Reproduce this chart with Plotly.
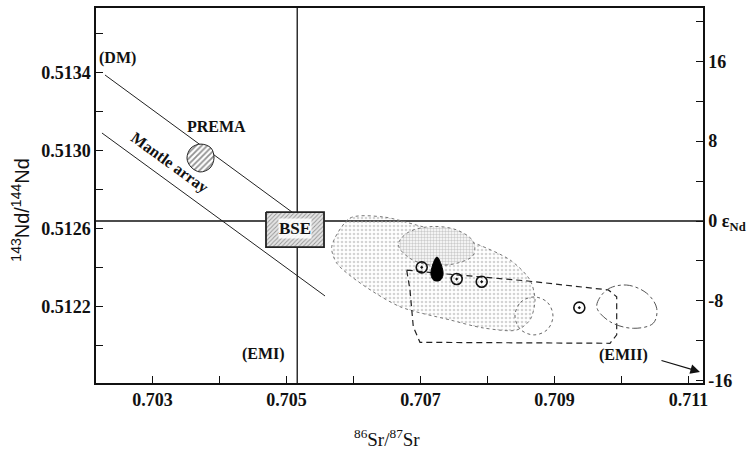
import plotly.graph_objects as go

# ---------------- data ----------------
X_RANGE = [0.702157, 0.711216]
Y_RANGE = [0.511806, 0.513732]
CHUR_ND = 0.512638          # epsilon Nd = 0 reference line
BSE_SR = 0.70516            # bulk silicate earth Sr line

X_TICKS = [0.703, 0.705, 0.707, 0.709, 0.711]
X_TICK_LABELS = ["0.703", "0.705", "0.707", "0.709", "0.711"]
X_MINOR = [0.703, 0.704, 0.705, 0.706, 0.707, 0.708, 0.709, 0.710, 0.711]
Y_TICKS = [0.5118, 0.5122, 0.5126, 0.5130, 0.5134]
Y_TICK_LABELS = ["0.5118", "0.5122", "0.5126", "0.5130", "0.5134"]
Y_MINOR = [0.5120, 0.5124, 0.5128, 0.5132, 0.5136]
EPS_TICKS = [-16, -8, 0, 8, 16]
EPS_TICK_LABELS = ["-16", "-8", "0 ε<sub>Nd</sub>", "8", "16"]
EPS_MINOR = [-12, -4, 4, 12, 20]

# mantle array bounding lines
DM_LINE_SR = [0.702291, 0.705082]
DM_LINE_ND = [0.513388, 0.512684]
LOW_LINE_SR = [0.702246, 0.705575]
LOW_LINE_ND = [0.513090, 0.512253]

# PREMA (hatched blob)
PREMA_SR = [0.703515, 0.703575, 0.703724, 0.703873, 0.703918, 0.703858, 0.703709, 0.703575, 0.703515]
PREMA_ND = [0.512961, 0.513013, 0.513033, 0.513013, 0.512961, 0.512910, 0.512890, 0.512915, 0.512961]

# BSE box
BSE_SR_BOX = [0.704694, 0.705560, 0.705560, 0.704694, 0.704694]
BSE_ND_BOX = [0.512684, 0.512684, 0.512504, 0.512504, 0.512684]

# large stippled field
FIELD_SR = [0.705675, 0.705948, 0.706440, 0.706943, 0.707689, 0.708336, 0.708634, 0.708709,
            0.708634, 0.708436, 0.707933, 0.707440, 0.706694, 0.706097, 0.705749, 0.705675]
FIELD_ND = [0.512506, 0.512653, 0.512659, 0.512617, 0.512540, 0.512438, 0.512335, 0.512232,
            0.512130, 0.512078, 0.512089, 0.512130, 0.512198, 0.512320, 0.512422, 0.512506]

# inner dense stippled field
CORE_SR = [0.706669, 0.706794, 0.707142, 0.707540, 0.707788, 0.707788, 0.707540, 0.707142, 0.706843, 0.706669]
CORE_ND = [0.512515, 0.512575, 0.512609, 0.512592, 0.512532, 0.512463, 0.512421, 0.512412, 0.512446, 0.512515]

# dashed field
DASH_SR = [0.706794, 0.707250, 0.708600, 0.709803, 0.709928, 0.709928, 0.709828, 0.706992, 0.706892, 0.706843, 0.706794]
DASH_ND = [0.512386, 0.512370, 0.512330, 0.512284, 0.512249, 0.512053, 0.512010, 0.512015, 0.512095, 0.512284, 0.512386]

# small dotted circle
CIRC_A_SR = [0.708410, 0.708492, 0.708694, 0.708895, 0.708977, 0.708895, 0.708694, 0.708492, 0.708410]
CIRC_A_ND = [0.512150, 0.512220, 0.512248, 0.512220, 0.512150, 0.512081, 0.512053, 0.512081, 0.512150]

# dash-dot ellipse (right)
CIRC_B_SR = [0.709630, 0.709779, 0.710077, 0.710376, 0.710525, 0.710474, 0.710176, 0.709828, 0.709630]
CIRC_B_ND = [0.512198, 0.512284, 0.512309, 0.512267, 0.512190, 0.512113, 0.512087, 0.512121, 0.512198]

# circled-dot samples
SAMPLE_SR = [0.707018, 0.707540, 0.707913, 0.709370]
SAMPLE_ND = [0.512400, 0.512340, 0.512326, 0.512193]

# black drop sample
DROP_SR = [0.707246, 0.707311, 0.707336, 0.707291, 0.707201, 0.707157, 0.707181, 0.707246]
DROP_ND = [0.512453, 0.512412, 0.512361, 0.512333, 0.512333, 0.512361, 0.512412, 0.512453]

# labels
LABELS = [
    ("(DM)", 0.702485, 0.513475, 0),
    ("PREMA", 0.703948, 0.513121, 0),
    ("Mantle array", 0.703261, 0.512936, 36),
    ("(EMI)", 0.704664, 0.511955, 0),
    ("(EMII)", 0.710022, 0.511950, 0),
]
BSE_LABEL = ("BSE", 0.705127, 0.512597)
ARROW_TAIL = (0.710574, 0.511924)
ARROW_HEAD = (0.711171, 0.511863)

# ---------------- figure ----------------
SERIF = "Liberation Serif, Times New Roman, serif"
fig = go.Figure()

fig.add_trace(go.Scatter(x=FIELD_SR, y=FIELD_ND, mode="lines", fill="toself",
                         line=dict(color="#777", width=1, dash="dot", shape="spline", smoothing=0.8),
                         fillcolor="rgba(0,0,0,0)",
                         fillpattern=dict(shape=".", fgcolor="#aaa", bgcolor="rgba(0,0,0,0)", size=4, solidity=0.35),
                         hoverinfo="skip", showlegend=False))
fig.add_trace(go.Scatter(x=CORE_SR, y=CORE_ND, mode="lines", fill="toself",
                         line=dict(color="#777", width=1, dash="dot", shape="spline", smoothing=1),
                         fillcolor="rgba(0,0,0,0)",
                         fillpattern=dict(shape=".", fgcolor="#999", bgcolor="white", size=3, solidity=0.5),
                         hoverinfo="skip", showlegend=False))
fig.add_trace(go.Scatter(x=DASH_SR, y=DASH_ND, mode="lines",
                         line=dict(color="#222", width=1.2, dash="6px,4px"),
                         hoverinfo="skip", showlegend=False))
fig.add_trace(go.Scatter(x=CIRC_A_SR, y=CIRC_A_ND, mode="lines",
                         line=dict(color="#666", width=1, dash="dot", shape="spline", smoothing=1),
                         hoverinfo="skip", showlegend=False))
fig.add_trace(go.Scatter(x=CIRC_B_SR, y=CIRC_B_ND, mode="lines",
                         line=dict(color="#555", width=1, dash="dashdot", shape="spline", smoothing=1),
                         hoverinfo="skip", showlegend=False))

# mantle array lines
fig.add_trace(go.Scatter(x=DM_LINE_SR, y=DM_LINE_ND, mode="lines",
                         line=dict(color="#222", width=1), hoverinfo="skip", showlegend=False))
fig.add_trace(go.Scatter(x=LOW_LINE_SR, y=LOW_LINE_ND, mode="lines",
                         line=dict(color="#222", width=1), hoverinfo="skip", showlegend=False))

# PREMA
fig.add_trace(go.Scatter(x=PREMA_SR, y=PREMA_ND, mode="lines", fill="toself",
                         line=dict(color="#222", width=1, shape="spline"),
                         fillcolor="white",
                         fillpattern=dict(shape="/", fgcolor="#222", bgcolor="white", size=4, solidity=0.45),
                         hoverinfo="skip", showlegend=False))
# BSE box
fig.add_trace(go.Scatter(x=BSE_SR_BOX, y=BSE_ND_BOX, mode="lines", fill="toself",
                         line=dict(color="#222", width=1.8),
                         fillcolor="white",
                         fillpattern=dict(shape="/", fgcolor="#444", bgcolor="#e4e4e4", size=3, solidity=0.3),
                         hoverinfo="skip", showlegend=False))

# samples
fig.add_trace(go.Scatter(x=SAMPLE_SR, y=SAMPLE_ND, mode="markers",
                         marker=dict(symbol="circle-open-dot", size=11, color="#111", line=dict(width=1.6, color="#111")),
                         hoverinfo="skip", showlegend=False))
fig.add_trace(go.Scatter(x=DROP_SR, y=DROP_ND, mode="lines", fill="toself",
                         line=dict(color="black", width=1, shape="spline"), fillcolor="black",
                         hoverinfo="skip", showlegend=False))


def eps(v):
    return (v / CHUR_ND - 1) * 1e4


# invisible trace for right epsilon axis
fig.add_trace(go.Scatter(x=[X_RANGE[0]], y=[0], yaxis="y2", mode="markers",
                         marker=dict(opacity=0), hoverinfo="skip", showlegend=False))

# reference lines
fig.add_shape(type="line", xref="paper", x0=0, x1=1, yref="y", y0=CHUR_ND, y1=CHUR_ND,
              line=dict(color="#111", width=1.3), layer="below")
fig.add_shape(type="line", xref="x", x0=BSE_SR, x1=BSE_SR, yref="paper", y0=0, y1=1,
              line=dict(color="#111", width=1.3), layer="below")

for text, xv, yv, ang in LABELS:
    fig.add_annotation(x=xv, y=yv, text=text, showarrow=False, textangle=ang,
                       font=dict(family=SERIF, size=16, color="#111", weight="bold"))
fig.add_annotation(x=BSE_LABEL[1], y=BSE_LABEL[2], text=BSE_LABEL[0], showarrow=False,
                   font=dict(family=SERIF, size=17, color="#111", weight="bold"),
                   bgcolor="rgba(255,255,255,0.85)", borderpad=0)
fig.add_annotation(x=ARROW_HEAD[0], y=ARROW_HEAD[1], ax=ARROW_TAIL[0], ay=ARROW_TAIL[1],
                   xref="x", yref="y", axref="x", ayref="y", text="", showarrow=True,
                   arrowhead=2, arrowsize=1.6, arrowwidth=1.2, arrowcolor="#111")

# axis titles
fig.add_annotation(xref="paper", yref="paper", x=-0.125, y=0.46, xanchor="center", yanchor="middle",
                   text="<sup>143</sup>Nd/<sup>144</sup>Nd",
                   showarrow=False, textangle=-90,
                   font=dict(family="Liberation Sans, Arial, sans-serif", size=20, color="#111"))
fig.add_annotation(xref="paper", yref="paper", x=0.479, y=-0.148, xanchor="center", yanchor="middle",
                   text="<sup>86</sup>Sr/<sup>87</sup>Sr",
                   showarrow=False, font=dict(family=SERIF, size=19, color="#111"))

tickfont = dict(family=SERIF, size=18, color="#111", weight="bold")
common = dict(ticks="inside", ticklen=7, tickcolor="#111", showgrid=False, zeroline=False,
              showline=True, linecolor="#111", linewidth=1.5, tickfont=tickfont, automargin=False)
fig.update_layout(
    width=755, height=461,
    margin=dict(l=96, r=52, t=8, b=78),
    paper_bgcolor="white", plot_bgcolor="white",
    xaxis=dict(range=X_RANGE, tickmode="array", tickvals=X_TICKS, ticktext=X_TICK_LABELS, mirror=True,
               minor=dict(tickmode="array", tickvals=X_MINOR, ticks="inside", ticklen=7, tickcolor="#111"),
               **common),
    yaxis=dict(range=Y_RANGE, tickmode="array", tickvals=Y_TICKS, ticktext=Y_TICK_LABELS, mirror=True,
               minor=dict(tickmode="array", tickvals=Y_MINOR, ticks="inside", ticklen=7, tickcolor="#111"),
               **common),
    yaxis2=dict(range=[eps(Y_RANGE[0]), eps(Y_RANGE[1])], overlaying="y", side="right",
                tickmode="array", tickvals=EPS_TICKS, ticktext=EPS_TICK_LABELS,
                minor=dict(tickmode="array", tickvals=EPS_MINOR, ticks="inside", ticklen=7, tickcolor="#111"),
                **common),
)

fig.write_html("out.html", config={"displayModeBar": False},
               post_script="document.body.style.margin='0';document.body.style.padding='0';")
